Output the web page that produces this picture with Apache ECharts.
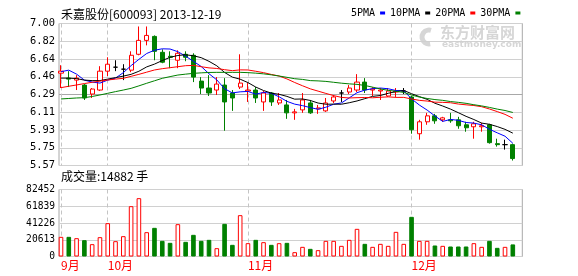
<!DOCTYPE html>
<html><head><meta charset="utf-8">
<script src="https://cdn.jsdelivr.net/npm/echarts@6/dist/echarts.min.js"></script>
<style>html,body{margin:0;padding:0;background:#fff}#c{width:578px;height:276px}</style>
</head><body><div id="c"></div>
<script>
const stockTitle = '禾嘉股份[600093] 2013-12-19';
const dates = ['2013-09-23','2013-09-24','2013-09-25','2013-09-26','2013-09-27','2013-09-30',
'2013-10-08','2013-10-09','2013-10-10','2013-10-11','2013-10-14','2013-10-15','2013-10-16','2013-10-17','2013-10-18',
'2013-10-21','2013-10-22','2013-10-23','2013-10-24','2013-10-25','2013-10-28','2013-10-29','2013-10-30','2013-10-31',
'2013-11-01','2013-11-04','2013-11-05','2013-11-06','2013-11-07','2013-11-08','2013-11-11','2013-11-12','2013-11-13',
'2013-11-14','2013-11-15','2013-11-18','2013-11-19','2013-11-20','2013-11-21','2013-11-22','2013-11-25','2013-11-26',
'2013-11-27','2013-11-28','2013-11-29','2013-12-02','2013-12-03','2013-12-04','2013-12-05','2013-12-06','2013-12-09',
'2013-12-10','2013-12-11','2013-12-12','2013-12-13','2013-12-16','2013-12-17','2013-12-18','2013-12-19'];
// [open, close, low, high]
const ohlc = [
[6.50,6.52,6.35,6.58],[6.45,6.44,6.36,6.52],[6.43,6.45,6.33,6.48],[6.38,6.25,6.23,6.39],[6.29,6.34,6.25,6.35],
[6.33,6.52,6.32,6.57],[6.52,6.59,6.47,6.66],[6.56,6.56,6.52,6.63],[6.54,6.54,6.43,6.59],[6.53,6.68,6.51,6.72],
[6.69,6.83,6.68,6.97],[6.83,6.88,6.78,6.97],[6.87,6.72,6.63,6.88],[6.71,6.61,6.60,6.74],[6.67,6.66,6.55,6.72],
[6.63,6.70,6.55,6.73],[6.69,6.66,6.62,6.72],[6.68,6.46,6.41,6.70],[6.42,6.35,6.29,6.46],[6.35,6.30,6.27,6.48],
[6.33,6.39,6.28,6.46],[6.38,6.21,5.92,6.45],[6.30,6.25,6.12,6.33],[6.36,6.40,6.34,6.69],[6.32,6.33,6.21,6.40],
[6.33,6.25,6.20,6.36],[6.21,6.30,6.12,6.32],[6.30,6.21,6.17,6.31],[6.20,6.23,6.18,6.30],[6.18,6.10,6.04,6.23],
[6.10,6.11,6.03,6.14],[6.13,6.23,6.10,6.30],[6.20,6.10,6.09,6.23],[6.14,6.15,6.09,6.18],[6.12,6.20,6.11,6.25],
[6.22,6.26,6.20,6.28],[6.30,6.30,6.21,6.33],[6.31,6.35,6.29,6.38],[6.33,6.41,6.31,6.49],[6.41,6.33,6.30,6.45],
[6.33,6.34,6.27,6.36],[6.32,6.33,6.23,6.35],[6.27,6.32,6.26,6.35],[6.31,6.32,6.26,6.35],[6.32,6.32,6.29,6.35],
[6.26,5.93,5.89,6.27],[5.89,6.01,5.83,6.03],[6.01,6.07,5.98,6.10],[6.07,6.02,5.99,6.09],[6.03,6.05,6.01,6.06],
[6.03,6.02,6.00,6.10],[6.03,5.97,5.94,6.06],[5.98,5.95,5.91,6.01],[5.96,5.99,5.84,6.01],[5.96,5.97,5.91,6.00],
[5.98,5.80,5.79,5.99],[5.79,5.78,5.76,5.84],[5.78,5.78,5.73,5.83],[5.78,5.64,5.62,5.79]];
const volumes = [24200,24200,22560,20100,15180,23790,41020,18870,25020,61940,
71790,29950,35280,19280,16820,39790,18050,26660,19280,20510,
10260,40200,14360,50860,16410,20510,17640,14360,16410,16820,
5330,11900,9430,7790,19280,19280,13130,20510,34050,15590,
11900,15590,13130,30350,15590,48810,19280,19280,13540,13130,
12310,12310,12310,16410,11900,19280,10670,11900,14882];
const ma5 = [6.515,6.53,6.49,6.43,6.41,6.40,6.43,6.45,6.505,6.576,6.639,6.698,6.731,6.745,6.743,6.716,6.671,6.619,6.567,6.494,
6.432,6.343,6.301,6.312,6.316,6.288,6.306,6.297,6.262,6.216,6.188,6.173,6.153,6.136,6.157,6.187,6.200,6.251,6.303,6.329,
6.344,6.350,6.343,6.325,6.323,6.241,6.179,6.128,6.069,6.014,6.034,6.025,6.003,5.997,5.980,5.935,5.899,5.865,5.794];
const ma10 = [6.45,6.45,6.445,6.43,6.425,6.425,6.44,6.455,6.47,6.488,6.519,6.563,6.591,6.627,6.659,6.678,6.685,6.675,6.656,6.619,
6.574,6.507,6.460,6.439,6.405,6.360,6.325,6.299,6.287,6.266,6.238,6.240,6.225,6.199,6.187,6.188,6.187,6.202,6.220,6.243,
6.266,6.275,6.297,6.314,6.326,6.293,6.264,6.236,6.197,6.169,6.138,6.102,6.065,6.033,5.997,5.985,5.962,5.934,5.896];
const ma20 = [6.354,6.368,6.381,6.395,6.408,6.42,6.431,6.44,6.448,6.468,6.488,6.51,6.532,6.545,6.555,6.565,6.575,6.578,6.565,
6.553,6.547,6.535,6.525,6.533,6.532,6.519,6.505,6.487,6.471,6.442,6.406,6.373,6.342,6.319,6.296,6.274,6.256,6.250,6.253,
6.255,6.252,6.257,6.261,6.256,6.256,6.240,6.226,6.219,6.208,6.206,6.202,6.189,6.181,6.174,6.162,6.139,6.113,6.085,6.046];
const ma30 = [6.24,6.245,6.25,6.253,6.265,6.28,6.297,6.314,6.33,6.347,6.372,6.398,6.423,6.448,6.465,6.481,6.49,6.498,6.503,
6.507,6.508,6.508,6.508,6.508,6.505,6.50,6.493,6.483,6.471,6.458,6.444,6.437,6.425,6.422,6.417,6.408,6.399,6.392,6.387,
6.376,6.359,6.341,6.327,6.317,6.306,6.280,6.259,6.245,6.234,6.226,6.214,6.206,6.196,6.182,6.170,6.155,6.138,6.124,6.104];
const priceTicks = ['5.57','5.75','5.93','6.11','6.29','6.46','6.64','6.82','7.00'];
const volumeTicks = [0,20613,41226,61839,82452];
const monthStarts = ['2013-09-23','2013-10-08','2013-11-01','2013-12-02'];
const monthLabels = ['9月','10月','11月','12月'];

const RED = '#ff0000', GREEN = '#008000';
const mono = 'DejaVu Sans Mono';
const cjk = 'Noto Sans CJK SC';

const volData = volumes.map((v, i) => {
  const up = ohlc[i][1] >= ohlc[i][0];
  return {value: v, itemStyle: up ? {color: '#fff', borderColor: RED, borderWidth: 1}
                                  : {color: GREEN, borderColor: GREEN, borderWidth: 1}};
});

const band = 7.79;
const dataLeft = 61, dataWidth = band * (dates.length - 1);
const frameLeft = 59, frameWidth = 463.3;
const pTop = 23.5, pH = 142, vTop = 189.5, vH = 67;

const splitColors = priceTicks.map((t, i) => i === 4 ? '#a8a8a8' : '#d0d0d0');
const monthSplit = {show: true, interval: (idx, val) => monthStarts.indexOf(val) >= 0,
                    lineStyle: {color: '#c4c4c4', type: [4, 3], width: 1}};

const chart = echarts.init(document.getElementById('c'), null, {renderer: 'canvas'});
chart.setOption({
  animation: false,
  backgroundColor: '#fff',
  title: [
    {text: stockTitle, left: 61, top: 8.5, padding: 0,
     textStyle: {fontFamily: cjk, fontSize: 12, fontWeight: 'normal', color: '#000'}},
    {text: '成交量:' + volumes[volumes.length - 1] + ' 手', left: 61, top: 170, padding: 0,
     textStyle: {fontFamily: cjk, fontSize: 12, fontWeight: 'normal', color: '#000'}}
  ],
  legend: {
    data: ['5PMA','10PMA','20PMA','30PMA'], left: 351, top: 8, padding: 0,
    align: 'right', icon: 'rect', itemWidth: 5, itemHeight: 3, itemGap: 5, selectedMode: false,
    textStyle: {fontFamily: mono, fontSize: 10, color: '#000'}
  },
  graphic: [
    {type: 'arc', z: -1, silent: true, shape: {cx: 429, cy: 37, r: 7, startAngle: 1.4, endAngle: 5.0},
     style: {stroke: '#d6d6d6', lineWidth: 5, fill: null}},
    {type: 'text', left: 440, top: 25, z: -1, silent: true,
     style: {text: '东方财富网', font: 'bold 15px "Noto Sans CJK SC"', fill: '#d6d6d6'}},
    {type: 'text', left: 442, top: 40, z: -1, silent: true,
     style: {text: 'eastmoney.com', font: 'bold 9px "DejaVu Sans"', fill: '#d6d6d6'}}
  ],
  grid: [
    {left: dataLeft, top: pTop, width: dataWidth, height: pH, show: false},
    {left: frameLeft, top: pTop, width: frameWidth, height: pH, show: true, borderColor: '#a8a8a8', borderWidth: 1, backgroundColor: 'transparent'},
    {left: dataLeft, top: vTop, width: dataWidth, height: vH, show: false},
    {left: frameLeft, top: vTop, width: frameWidth, height: vH, show: true, borderColor: '#a8a8a8', borderWidth: 1, backgroundColor: 'transparent'}
  ],
  xAxis: [
    {type: 'category', gridIndex: 0, data: dates, boundaryGap: false,
     axisLine: {show: false}, axisTick: {show: false}, axisLabel: {show: false}, splitLine: monthSplit},
    {type: 'value', gridIndex: 1, min: 0, max: 1, show: false},
    {type: 'category', gridIndex: 2, data: dates, boundaryGap: false,
     axisLine: {show: false}, axisTick: {show: false}, splitLine: monthSplit,
     axisLabel: {
       interval: (idx, val) => monthStarts.indexOf(val) >= 0,
       formatter: (val) => monthLabels[monthStarts.indexOf(val)],
       align: 'left', margin: 3, color: RED, fontSize: 12, fontFamily: cjk
     }},
    {type: 'value', gridIndex: 3, min: 0, max: 1, show: false}
  ],
  yAxis: [
    {type: 'value', gridIndex: 0, min: 5.57, max: 7.00, scale: true, show: false},
    {type: 'value', gridIndex: 1, min: 0, max: priceTicks.length - 1, interval: 1,
     axisLine: {show: false}, axisTick: {show: false},
     axisLabel: {formatter: (v) => priceTicks[v], margin: 4, color: '#000', fontFamily: mono, fontSize: 10.4, padding: [0,0,3,0]},
     splitLine: {show: true, lineStyle: {color: splitColors, width: 1}}},
    {type: 'value', gridIndex: 2, min: 0, max: volumeTicks[volumeTicks.length - 1], show: false},
    {type: 'value', gridIndex: 3, min: 0, max: volumeTicks[volumeTicks.length - 1], interval: volumeTicks[1],
     axisLine: {show: false}, axisTick: {show: false},
     axisLabel: {formatter: (v) => String(v), margin: 4, color: '#000', fontFamily: mono, fontSize: 9.6, padding: [4,0,0,0]},
     splitLine: {show: true, lineStyle: {color: '#d0d0d0', width: 1}}}
  ],
  series: [
    {type: 'candlestick', name: 'K', xAxisIndex: 0, yAxisIndex: 0, data: ohlc, barWidth: 4.6, z: 2, clip: false,
     itemStyle: {color: '#fff', color0: GREEN, borderColor: RED, borderColor0: GREEN, borderColorDoji: '#000', borderWidth: 1}},
    {type: 'line', name: '5PMA', xAxisIndex: 0, yAxisIndex: 0, data: ma5, color: '#0000ff', symbol: 'none', z: 3, clip: false, lineStyle: {width: 1, color: '#0000ff'}},
    {type: 'line', name: '10PMA', xAxisIndex: 0, yAxisIndex: 0, data: ma10, color: '#000000', symbol: 'none', z: 3, clip: false, lineStyle: {width: 1, color: '#000000'}},
    {type: 'line', name: '20PMA', xAxisIndex: 0, yAxisIndex: 0, data: ma20, color: RED, symbol: 'none', z: 3, clip: false, lineStyle: {width: 1, color: RED}},
    {type: 'line', name: '30PMA', xAxisIndex: 0, yAxisIndex: 0, data: ma30, color: GREEN, symbol: 'none', z: 3, clip: false, lineStyle: {width: 1, color: GREEN}},
    {type: 'bar', name: 'VOL', xAxisIndex: 2, yAxisIndex: 2, data: volData, barWidth: 4.6, z: 2, clip: false}
  ]
});
</script></body></html>
